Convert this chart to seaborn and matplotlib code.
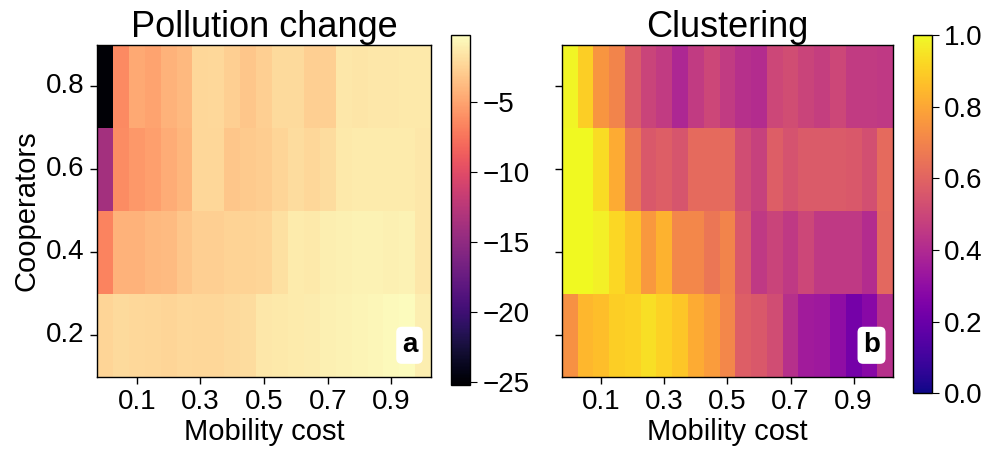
import numpy as np
import seaborn as sns
import matplotlib.pyplot as plt

sns.set_style("ticks")
plt.rcParams['font.family'] = ['Liberation Sans', 'DejaVu Sans']
plt.rcParams['text.color'] = 'black'
plt.rcParams['axes.labelcolor'] = 'black'
plt.rcParams['xtick.color'] = 'black'
plt.rcParams['ytick.color'] = 'black'
plt.rcParams['axes.edgecolor'] = 'black'

# mobility cost 0.00 .. 1.00 step 0.05 (21 columns), cooperators rows (bottom -> top)
mobility_cost = [round(0.05 * i, 2) for i in range(21)]
cooperators = [0.2, 0.4, 0.6, 0.8]

pollution_02 = [-2.4, -2.1, -2.2, -2.3, -2.4, -2.2, -2.3, -2.3, -2.1, -2.0, -1.4,
                -1.3, -1.2, -1.15, -0.95, -0.8, -0.75, -0.6, -0.4, -0.3, -1.0]
pollution_04 = [-6.7, -4.3, -4.3, -3.9, -3.8, -3.2, -2.7, -2.7, -2.5, -2.5, -2.4,
                -1.8, -1.2, -1.35, -1.0, -0.9, -0.85, -0.85, -0.9, -0.8, -1.4]
pollution_06 = [-13.8, -6.2, -5.6, -5.2, -4.5, -4.1, -2.3, -2.3, -3.2, -3.0, -2.8,
                -2.4, -2.0, -2.3, -2.0, -1.3, -1.2, -1.2, -1.2, -1.2, -1.4]
pollution_08 = [-25.0, -6.3, -4.7, -5.0, -4.3, -3.9, -2.3, -2.2, -2.7, -3.2, -2.7,
                -2.1, -2.1, -2.7, -2.7, -1.4, -1.5, -1.4, -1.4, -1.35, -1.3]

clustering_02 = [0.74, 0.84, 0.86, 0.90, 0.91, 0.94, 0.91, 0.88, 0.81, 0.77, 0.71,
                 0.58, 0.56, 0.52, 0.42, 0.35, 0.34, 0.30, 0.23, 0.28, 0.42]
clustering_04 = [1.0, 1.0, 0.98, 0.92, 0.87, 0.76, 0.83, 0.71, 0.71, 0.66, 0.70,
                 0.56, 0.45, 0.49, 0.45, 0.50, 0.45, 0.45, 0.45, 0.41, 0.61]
clustering_06 = [1.0, 1.0, 0.93, 0.81, 0.66, 0.56, 0.58, 0.55, 0.62, 0.62, 0.62,
                 0.52, 0.48, 0.58, 0.54, 0.57, 0.57, 0.57, 0.56, 0.53, 0.62]
clustering_08 = [0.99, 0.90, 0.75, 0.70, 0.57, 0.49, 0.46, 0.39, 0.46, 0.50, 0.46,
                 0.42, 0.41, 0.50, 0.52, 0.49, 0.47, 0.50, 0.46, 0.46, 0.45]

x_ticks = [0.1, 0.3, 0.5, 0.7, 0.9]

pollution = np.array([pollution_02, pollution_04, pollution_06, pollution_08])
clustering = np.array([clustering_02, clustering_04, clustering_06, clustering_08])

fig = plt.figure(figsize=(9.89, 4.54), dpi=100)
ax1 = fig.add_axes([0.098, 0.170, 0.338, 0.731])
cax1 = fig.add_axes([0.456, 0.152, 0.019, 0.771])
ax2 = fig.add_axes([0.568, 0.170, 0.335, 0.731])
cax2 = fig.add_axes([0.923, 0.134, 0.019, 0.789])

sns.heatmap(pollution, ax=ax1, cbar_ax=cax1, cmap="magma", vmin=-25.2, vmax=-0.2)
sns.heatmap(clustering, ax=ax2, cbar_ax=cax2, cmap="plasma", vmin=0, vmax=1)

fs = 20
xpos = [mobility_cost.index(v) + 0.5 for v in x_ticks]
for ax, title, lab in [(ax1, "Pollution change", "a"), (ax2, "Clustering", "b")]:
    ax.invert_yaxis()
    ax.set_xticks(xpos)
    ax.set_xticklabels([f"{v:.1f}" for v in x_ticks], rotation=0, fontsize=fs)
    ax.set_yticks([i + 0.5 for i in range(len(cooperators))])
    ax.set_yticklabels([f"{v:.1f}" for v in cooperators], rotation=0, fontsize=fs)
    ax.set_xlabel("Mobility cost", fontsize=21, labelpad=2)
    ax.set_title(title, fontsize=26, pad=5)
    ax.tick_params(direction="out", length=5, width=1, pad=4)
    for s in ax.spines.values():
        s.set_visible(True)
        s.set_linewidth(1)
    ax.text(0.935, 0.095, lab, transform=ax.transAxes, fontsize=20, fontweight="bold",
            ha="center", va="center",
            bbox=dict(boxstyle="round,pad=0.2", fc="white", ec="none"))

ax1.set_ylabel("Cooperators", fontsize=21, labelpad=4)
ax2.set_yticklabels([])
ax2.set_ylabel("")

cb1 = ax1.collections[0].colorbar
cb1.set_ticks([-5, -10, -15, -20, -25])
cb1.ax.set_yticklabels(["\u22125", "\u221210", "\u221215", "\u221220", "\u221225"])
cb2 = ax2.collections[0].colorbar
cb2.set_ticks([0.0, 0.2, 0.4, 0.6, 0.8, 1.0])
for cb in (cb1, cb2):
    cb.ax.tick_params(labelsize=fs, length=5, pad=4)
    cb.outline.set_visible(True)
    cb.outline.set_linewidth(1)

fig.savefig("out.png", dpi=100)
